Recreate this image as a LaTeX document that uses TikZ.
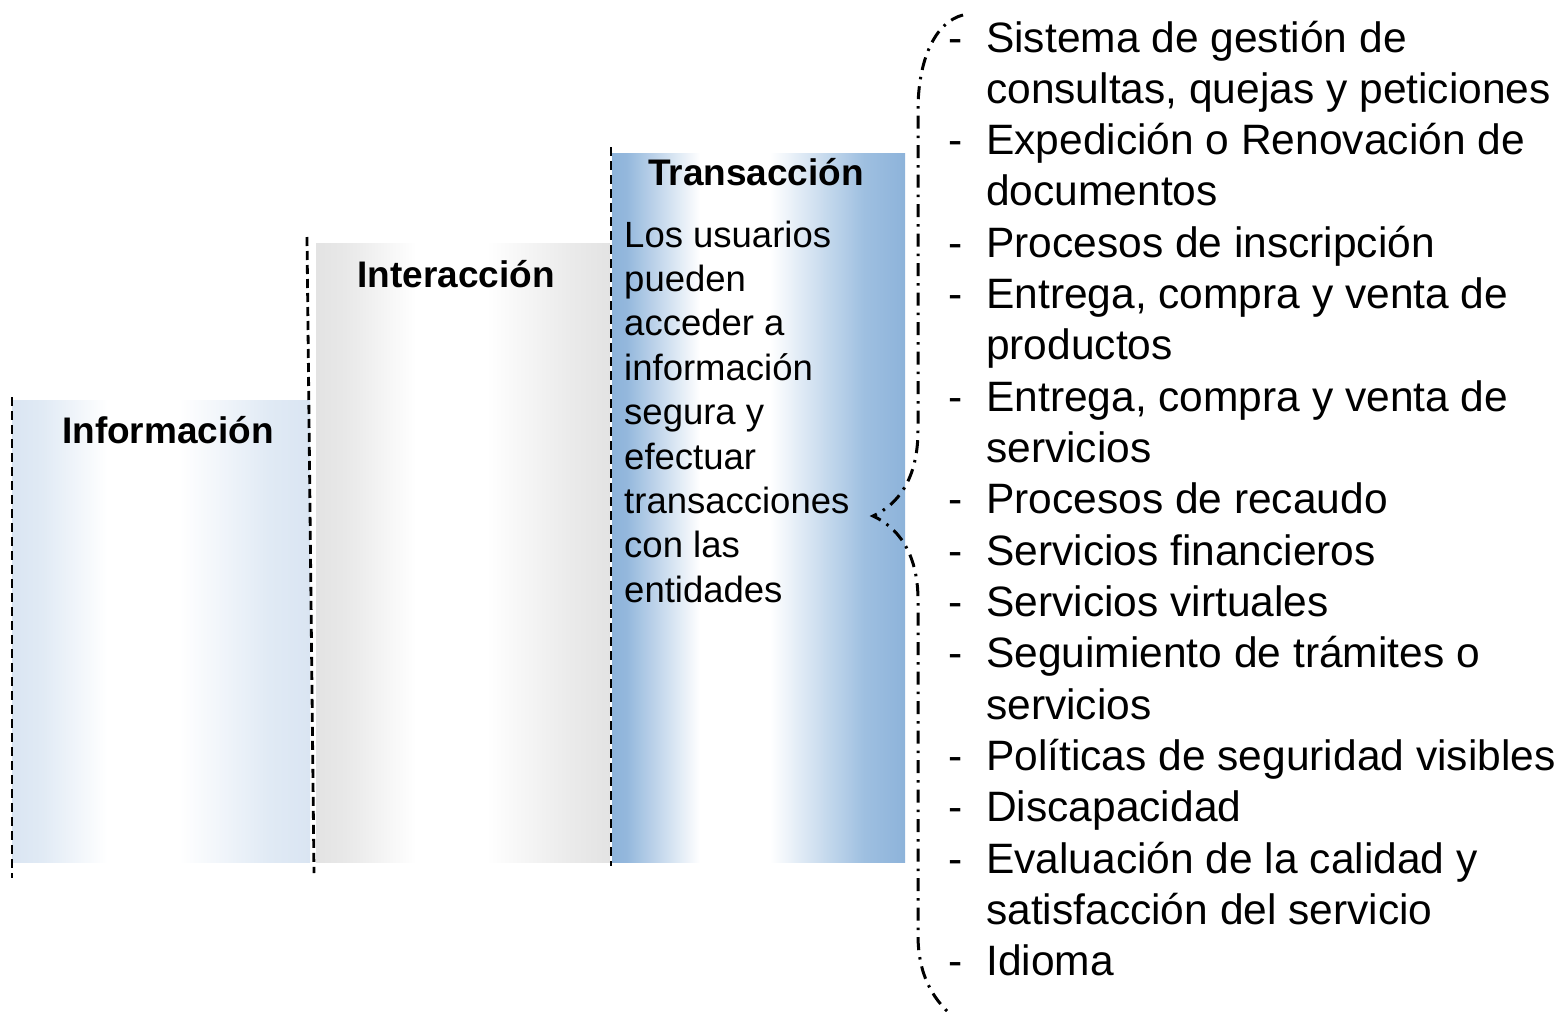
\documentclass[tikz,border=0pt]{standalone}
\usepackage{fontspec}
\setmainfont{Liberation Sans}
\pgfdeclarehorizontalshading{infoshade}{100bp}{rgb(0bp)=(0.855,0.898,0.949); rgb(25bp)=(0.855,0.898,0.949); rgb(30bp)=(0.88,0.918,0.96); rgb(41bp)=(1,1,1); rgb(53bp)=(1,1,1); rgb(68bp)=(0.88,0.918,0.96); rgb(75bp)=(0.855,0.898,0.949); rgb(100bp)=(0.855,0.898,0.949)}
\pgfdeclarehorizontalshading{intshade}{100bp}{rgb(0bp)=(0.89,0.89,0.89); rgb(25bp)=(0.89,0.89,0.89); rgb(30bp)=(0.91,0.91,0.91); rgb(42bp)=(1,1,1); rgb(54bp)=(1,1,1); rgb(68bp)=(0.92,0.92,0.92); rgb(75bp)=(0.89,0.89,0.89); rgb(100bp)=(0.89,0.89,0.89)}
\pgfdeclarehorizontalshading{transshade}{100bp}{rgb(0bp)=(0.553,0.702,0.855); rgb(25bp)=(0.553,0.702,0.855); rgb(27.5bp)=(0.58,0.72,0.865); rgb(40bp)=(1,1,1); rgb(52bp)=(1,1,1); rgb(68bp)=(0.62,0.75,0.88); rgb(75bp)=(0.553,0.702,0.855); rgb(100bp)=(0.553,0.702,0.855)}
\begin{document}
\begin{tikzpicture}[x=1pt,y=-1pt,
  sep/.style={line width=2.8pt,dash pattern=on 9pt off 5pt},
  brace/.style={line width=3pt,dash pattern=on 13pt off 7pt on 2.5pt off 7pt},
  title/.style={font=\bfseries\fontsize{37}{44}\selectfont,anchor=base,inner sep=0pt},
  body/.style={font=\fontsize{36.5}{44}\selectfont,anchor=base west,inner sep=0pt},
  item/.style={font=\fontsize{42.5}{51}\selectfont,anchor=base west,inner sep=0pt}]
\useasboundingbox (0,0) rectangle (1561,1012);
% boxes
\shade[shading=infoshade] (12,400) rectangle (310,862);
\shade[shading=intshade] (316,243) rectangle (610,862);
\shade[shading=transshade] (612,153) rectangle (905,862);
% dashed separators
\draw[sep] (12,397) -- (12,878);
\draw[sep] (307,237) -- (314,873);
\draw[sep] (611,147) -- (611,866);
% titles
\node[title] (tinfo) at (168,443) {Información};
\node[title] (tint) at (456,287) {Interacción};
\node[title] (ttrans) at (756,185) {Transacción};
% body
\foreach \t [count=\i from 0] in {Los usuarios,pueden,acceder a,información,segura y,efectuar,transacciones,con las,entidades}
  \node[body] (b\i) at (624,247+44.4*\i) {\t};
% brace
\draw[brace] (963,15) .. controls (935,22) and (918,60) .. (918,110) -- (918,430)
  .. controls (918,480) and (897,505) .. (873,516)
  .. controls (897,527) and (918,552) .. (918,600) -- (918,935)
  .. controls (918,975) and (933,998) .. (950,1014);
% list lines
\foreach \t [count=\i from 0] in {Sistema de gestión de,consultas{,} quejas y peticiones,Expedición o Renovación de,documentos,Procesos de inscripción,Entrega{,} compra y venta de,productos,Entrega{,} compra y venta de,servicios,Procesos de recaudo,Servicios financieros,Servicios virtuales,Seguimiento de trámites o,servicios,Políticas de seguridad visibles,Discapacidad,Evaluación de la calidad y,satisfacción del servicio,Idioma}
  \node[item] (l\i) at (986,52+51.33*\i) {\t};
% dashes
\foreach \k in {0,2,4,5,7,9,10,11,12,14,15,16,18}
  \node[item] (d\k) at (948,52+51.33*\k) {-};
\end{tikzpicture}
\end{document}
